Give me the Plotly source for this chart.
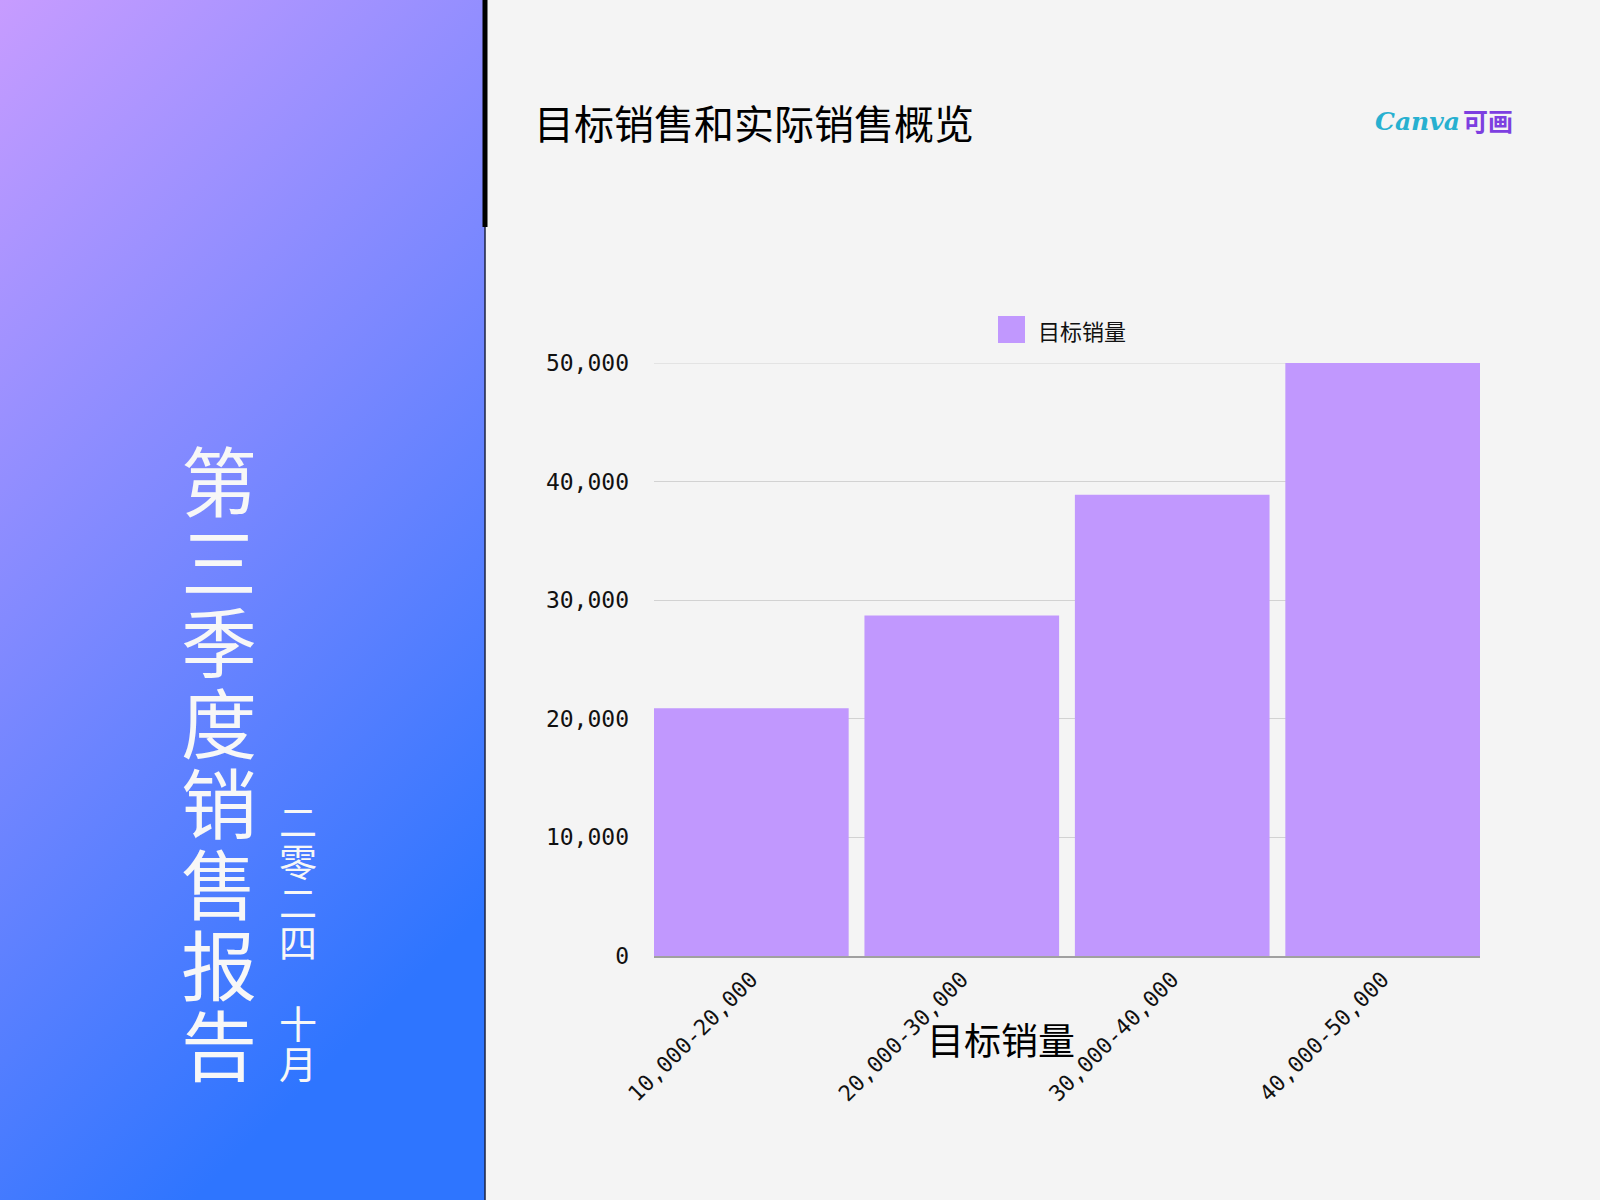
import base64
import plotly.graph_objects as go

# data
categories = ["10,000-20,000", "20,000-30,000", "30,000-40,000", "40,000-50,000"]
target_sales = [20900, 28700, 38900, 50000]
series_name = "目标销量"
y_ticks = [0, 10000, 20000, 30000, 40000, 50000]

chart_title = "目标销售和实际销售概览"
side_title = "第三季度销售报告"
side_date = "二零二四 十月"

W, H = 1600, 1200
# plot area in pixels
L, R, T, B = 654, 1480, 363, 956
BAR_COLOR = "#c198fe"
MONO = "DejaVu Sans Mono"
CJK = "Noto Sans CJK SC"


def px_x(p):
    return (p - L) / (R - L)


def px_y(p):
    return (B - p) / (B - T)


def stacked(text, glyph_px):
    # one char per line, glyphs drawn bigger than the line pitch font
    return "<br>".join("<span style='font-size:%dpx'>%s</span>" % (glyph_px, c if c.strip() else "&nbsp;")
                       for c in text)


# gradient for the left panel, as a small svg image
svg = """<svg xmlns='http://www.w3.org/2000/svg' width='485' height='1200' viewBox='0 0 485 1200' preserveAspectRatio='none'>
<defs><linearGradient id='g' x1='0' y1='0' x2='0.4' y2='1'>
<stop offset='0' stop-color='#c79cff'/>
<stop offset='0.5' stop-color='#7c88ff'/>
<stop offset='1' stop-color='#2e75ff'/>
</linearGradient></defs>
<rect width='485' height='1200' fill='url(#g)'/></svg>"""
svg_uri = "data:image/svg+xml;base64," + base64.b64encode(svg.encode()).decode()

fig = go.Figure()
fig.add_trace(go.Bar(x=categories, y=target_sales, name=series_name,
                     marker=dict(color=BAR_COLOR, line=dict(width=0)),
                     showlegend=False))

bargap = 0.075
fig.update_layout(
    width=W, height=H, autosize=False,
    margin=dict(l=L, r=W - R, t=T, b=H - B, pad=0),
    paper_bgcolor="#f4f4f4", plot_bgcolor="#f4f4f4",
    bargap=bargap,
    font=dict(family=MONO, color="#111111"),
    xaxis=dict(type="category", range=[-0.5 + bargap / 2, 3.5 - bargap / 2],
               tickangle=-45, tickfont=dict(family=MONO, size=22, color="#111111"),
               showgrid=False, showline=True, linecolor="#a0a0a0", linewidth=1.5,
               ticks="", automargin=False),
    yaxis=dict(range=[0, 50000], tickvals=y_ticks, tickformat=",d",
               tickfont=dict(family=MONO, size=23, color="#111111"),
               gridcolor="#d2d2d2", gridwidth=1, zeroline=False,
               ticklabelstandoff=24, automargin=False),
    images=[dict(source=svg_uri, xref="paper", yref="paper",
                 x=px_x(0), y=px_y(0), sizex=px_x(485) - px_x(0), sizey=px_y(0) - px_y(1200),
                 sizing="stretch", layer="below", xanchor="left", yanchor="top")],
)

shapes = [
    # top gridline (plotly drops the one on the plot edge)
    dict(type="line", xref="paper", yref="y", x0=0, x1=1, y0=y_ticks[-1], y1=y_ticks[-1],
         layer="below", line=dict(color="#d2d2d2", width=1)),
    # thin divider along the panel edge
    dict(type="line", xref="paper", yref="paper", x0=px_x(485), x1=px_x(485),
         y0=px_y(0), y1=px_y(1200), line=dict(color="#1c2340", width=1.5)),
    # thick black bar at the top
    dict(type="line", xref="paper", yref="paper", x0=px_x(485), x1=px_x(485),
         y0=px_y(0), y1=px_y(227), line=dict(color="#000000", width=5)),
    # legend swatch
    dict(type="rect", xref="paper", yref="paper", x0=px_x(998), x1=px_x(1025),
         y0=px_y(316), y1=px_y(343), fillcolor=BAR_COLOR, line=dict(width=0)),
]
fig.update_layout(shapes=shapes)

ann = [
    dict(text=chart_title, x=px_x(532), y=px_y(122), xanchor="left", yanchor="middle",
         font=dict(family=CJK, size=40, color="#000000")),
    dict(text="<b><i>Canva</i></b>", x=px_x(1462), y=px_y(121), xanchor="right", yanchor="middle",
         font=dict(family="DejaVu Serif", size=25, color="#27b0d0")),
    dict(text="<b>可画</b>", x=px_x(1461), y=px_y(120), xanchor="left", yanchor="middle",
         font=dict(family=CJK, size=25, color="#7d3fe0")),
    dict(text=series_name, x=px_x(1036), y=px_y(330), xanchor="left", yanchor="middle",
         font=dict(family=CJK, size=22, color="#111111")),
    dict(text=series_name, x=px_x(1001), y=px_y(1039), xanchor="center", yanchor="middle",
         font=dict(family=CJK, size=37, color="#000000")),
    # vertical side texts
    dict(text=stacked(side_title, 76), x=px_x(219), y=px_y(760), xanchor="center", yanchor="middle",
         font=dict(family=CJK, size=62, color="#f7f7f7")),
    dict(text=stacked(side_date, 38), x=px_x(298), y=px_y(940), xanchor="center", yanchor="middle",
         font=dict(family=CJK, size=31, color="#f7f7f7")),
]
for a in ann:
    a.update(xref="paper", yref="paper", showarrow=False)
fig.update_layout(annotations=ann)

fig.write_html("out.html", config={"displayModeBar": False},
               post_script="document.body.style.margin='0';")
